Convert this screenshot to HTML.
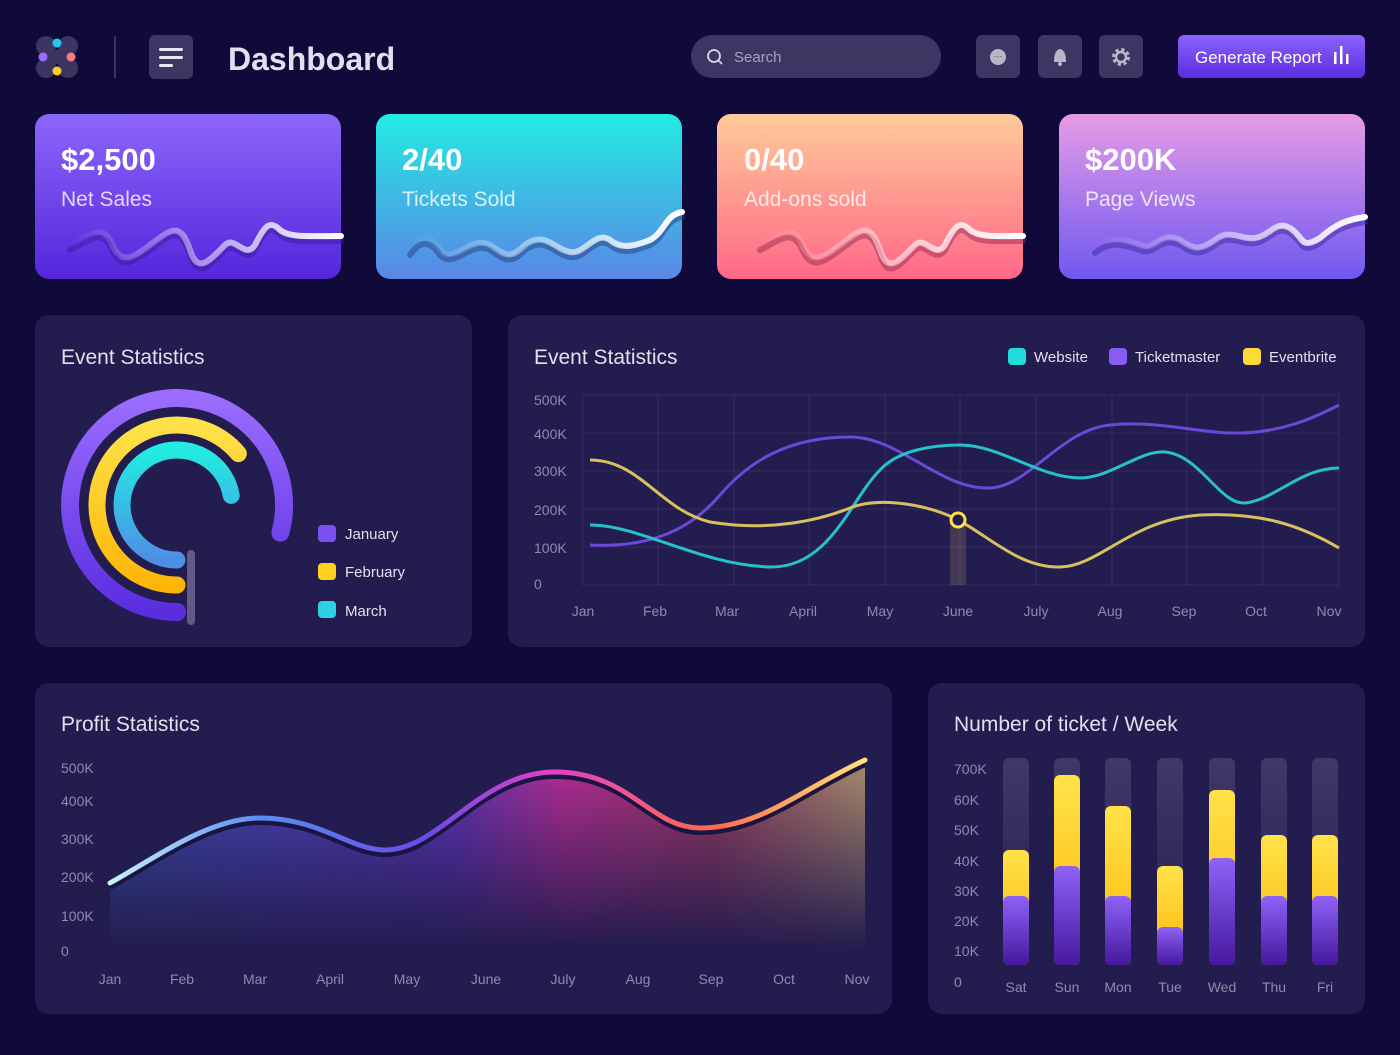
<!DOCTYPE html>
<html><head><meta charset="utf-8"><style>
body{margin:0;width:1400px;height:1050px;background:#100a3a;font-family:"Liberation Sans",sans-serif;overflow:hidden}
</style></head><body>
<svg width="1400" height="1050" viewBox="0 0 1400 1050" xmlns="http://www.w3.org/2000/svg" font-family="Liberation Sans, sans-serif">
<defs>
<linearGradient id="c1" x1="0" y1="0" x2="0" y2="1"><stop offset="0" stop-color="#8d66fa"/><stop offset="1" stop-color="#5526dc"/></linearGradient>
<linearGradient id="c2" x1="0" y1="0" x2="0" y2="1"><stop offset="0" stop-color="#22ece2"/><stop offset="1" stop-color="#5a86e6"/></linearGradient>
<linearGradient id="c3" x1="0" y1="0" x2="0" y2="1"><stop offset="0" stop-color="#ffca98"/><stop offset="1" stop-color="#ff6888"/></linearGradient>
<linearGradient id="c4" x1="0" y1="0" x2="0" y2="1"><stop offset="0" stop-color="#e69ce6"/><stop offset="1" stop-color="#6f58f0"/></linearGradient>
<linearGradient id="btn" x1="0" y1="0" x2="0" y2="1"><stop offset="0" stop-color="#8c62fb"/><stop offset="1" stop-color="#5a2de0"/></linearGradient>
<linearGradient id="wl" x1="0" y1="0" x2="1" y2="0"><stop offset="0" stop-color="#fff" stop-opacity="0"/><stop offset="0.6" stop-color="#fff" stop-opacity="0.6"/><stop offset="1" stop-color="#fff"/></linearGradient>
<linearGradient id="gp" x1="0" y1="0" x2="0" y2="1"><stop offset="0" stop-color="#9a6cff"/><stop offset="1" stop-color="#5a2ee0"/></linearGradient>
<linearGradient id="gy" x1="0" y1="0" x2="0" y2="1"><stop offset="0" stop-color="#ffe24a"/><stop offset="1" stop-color="#fdb606"/></linearGradient>
<linearGradient id="gc" x1="0" y1="0" x2="0" y2="1"><stop offset="0" stop-color="#22ece2"/><stop offset="1" stop-color="#4f8ee6"/></linearGradient>
<linearGradient id="bp" x1="0" y1="0" x2="0" y2="1"><stop offset="0" stop-color="#8e63f6"/><stop offset="1" stop-color="#45189e"/></linearGradient>
<linearGradient id="tr" x1="0" y1="0" x2="0" y2="1"><stop offset="0" stop-color="#403865"/><stop offset="1" stop-color="#241d50"/></linearGradient>
<linearGradient id="pl" x1="0" y1="0" x2="1" y2="0"><stop offset="0" stop-color="#c8f0ff"/><stop offset="0.2" stop-color="#5a8cf0"/><stop offset="0.42" stop-color="#6a4ae6"/><stop offset="0.58" stop-color="#e040c8"/><stop offset="0.8" stop-color="#ff6a50"/><stop offset="1" stop-color="#ffe27a"/></linearGradient>
<linearGradient id="pf" x1="0" y1="0" x2="1" y2="0"><stop offset="0" stop-color="#3a5ac0"/><stop offset="0.45" stop-color="#6a3ad0"/><stop offset="0.6" stop-color="#d0309e"/><stop offset="0.8" stop-color="#b04060"/><stop offset="1" stop-color="#c0a070"/></linearGradient>
<linearGradient id="pfm" x1="0" y1="0" x2="0" y2="1"><stop offset="0" stop-color="#fff" stop-opacity="0.9"/><stop offset="1" stop-color="#fff" stop-opacity="0"/></linearGradient>
<mask id="pm"><rect x="100" y="750" width="780" height="200" fill="url(#pfm)"/></mask>
</defs>
<!-- header -->
<g>
<circle cx="46" cy="46" r="10" fill="#3b3560"/><circle cx="68" cy="46" r="10" fill="#3b3560"/><circle cx="46" cy="68" r="10" fill="#3b3560"/><circle cx="68" cy="68" r="10" fill="#3b3560"/><rect x="46" y="50" width="22" height="14" fill="#3b3560"/>
<circle cx="57" cy="43" r="4.5" fill="#22c8f0"/><circle cx="43" cy="57" r="4.5" fill="#9a6cff"/><circle cx="71" cy="57" r="4.5" fill="#ff7a80"/><circle cx="57" cy="71" r="4.5" fill="#ffcc22"/>
</g>
<rect x="114" y="36" width="2" height="42" fill="#3a3460"/>
<rect x="149" y="35" width="44" height="44" rx="6" fill="#3d3663"/>
<rect x="159" y="48" width="24" height="3" rx="1.5" fill="#e8e6f2"/><rect x="159" y="56" width="24" height="3" rx="1.5" fill="#e8e6f2"/><rect x="159" y="64" width="14" height="3" rx="1.5" fill="#e8e6f2"/>
<text x="228" y="70" font-size="32" font-weight="bold" fill="#e2e0ee">Dashboard</text>
<rect x="691" y="35" width="250" height="43" rx="21.5" fill="#3d3663"/>
<circle cx="714" cy="56" r="6" fill="none" stroke="#d8d6e6" stroke-width="1.8"/><line x1="718" y1="60" x2="722" y2="64" stroke="#d8d6e6" stroke-width="1.8"/>
<text x="734" y="62" font-size="15" fill="#a6a2c2">Search</text>
<rect x="976" y="35" width="44" height="43" rx="6" fill="#3d3663"/><rect x="1038" y="35" width="44" height="43" rx="6" fill="#3d3663"/><rect x="1099" y="35" width="44" height="43" rx="6" fill="#3d3663"/>
<circle cx="998" cy="57" r="8" fill="#b8b6c8"/><text x="998" y="59" font-size="9" fill="#3d3663" text-anchor="middle">···</text>
<path d="M1054 62 Q1054 50 1060 49 Q1066 50 1066 62 Z" fill="#b8b6c8"/><circle cx="1060" cy="64" r="2" fill="#b8b6c8"/>
<circle cx="1121" cy="57" r="7" fill="none" stroke="#b8b6c8" stroke-width="4" stroke-dasharray="3 2.5"/><circle cx="1121" cy="57" r="5" fill="none" stroke="#b8b6c8" stroke-width="2.5"/>
<rect x="1178" y="35" width="187" height="43" rx="6" fill="url(#btn)"/>
<text x="1195" y="63" font-size="17" fill="#fff">Generate Report</text>
<rect x="1334" y="52" width="2.5" height="12" fill="#fff"/><rect x="1340" y="46" width="2.5" height="18" fill="#fff"/><rect x="1346" y="54" width="2.5" height="10" fill="#fff"/>
<!-- cards -->
<rect x="35" y="114" width="306" height="165" rx="14" fill="url(#c1)"/>
<rect x="376" y="114" width="306" height="165" rx="14" fill="url(#c2)"/>
<rect x="717" y="114" width="306" height="165" rx="14" fill="url(#c3)"/>
<rect x="1059" y="114" width="306" height="165" rx="14" fill="url(#c4)"/>
<g font-weight="bold" font-size="31" fill="#fff">
<text x="61" y="170">$2,500</text><text x="402" y="170">2/40</text><text x="744" y="170">0/40</text><text x="1085" y="170">$200K</text></g>
<g font-size="21" fill="#fff" fill-opacity="0.8">
<text x="61" y="206">Net Sales</text><text x="402" y="206">Tickets Sold</text><text x="744" y="206">Add-ons sold</text><text x="1085" y="206">Page Views</text></g>
<g fill="none" stroke-width="6" stroke-linecap="round">
<path d="M70 245 C90 235 100 225 110 240 C120 265 130 260 150 245 C170 230 180 220 190 250 C198 275 210 260 225 245 C235 235 245 260 255 245 C265 225 270 220 280 230 C290 238 310 236 341 236" stroke="#3a1aa0" stroke-opacity="0.5" transform="translate(0,5)"/>
<path d="M70 245 C90 235 100 225 110 240 C120 265 130 260 150 245 C170 230 180 220 190 250 C198 275 210 260 225 245 C235 235 245 260 255 245 C265 225 270 220 280 230 C290 238 310 236 341 236" stroke="url(#wl)"/>
<path d="M410 250 C420 235 430 235 440 250 C455 265 470 235 490 245 C505 255 510 260 525 245 C545 230 555 250 570 252 C585 255 595 230 610 240 C620 248 630 248 650 240 C665 232 665 215 682 212" stroke="#204080" stroke-opacity="0.5" transform="translate(0,5)"/>
<path d="M410 250 C420 235 430 235 440 250 C455 265 470 235 490 245 C505 255 510 260 525 245 C545 230 555 250 570 252 C585 255 595 230 610 240 C620 248 630 248 650 240 C665 232 665 215 682 212" stroke="url(#wl)"/>
<path d="M760 245 C780 235 790 225 800 240 C810 265 820 260 840 245 C860 230 870 220 880 250 C888 275 900 260 915 245 C925 235 935 260 945 245 C955 225 960 220 970 230 C980 238 1000 236 1023 236" stroke="#a02850" stroke-opacity="0.5" transform="translate(0,5)"/>
<path d="M760 245 C780 235 790 225 800 240 C810 265 820 260 840 245 C860 230 870 220 880 250 C888 275 900 260 915 245 C925 235 935 260 945 245 C955 225 960 220 970 230 C980 238 1000 236 1023 236" stroke="url(#wl)"/>
<path d="M1095 248 C1110 235 1125 240 1140 245 C1155 252 1160 230 1180 240 C1195 250 1200 250 1215 240 C1230 228 1240 240 1255 238 C1270 236 1275 220 1290 228 C1305 238 1300 250 1320 238 C1335 225 1345 220 1365 217" stroke="#3a2aa0" stroke-opacity="0.5" transform="translate(0,5)"/>
<path d="M1095 248 C1110 235 1125 240 1140 245 C1155 252 1160 230 1180 240 C1195 250 1200 250 1215 240 C1230 228 1240 240 1255 238 C1270 236 1275 220 1290 228 C1305 238 1300 250 1320 238 C1335 225 1345 220 1365 217" stroke="url(#wl)"/>
</g>
<!-- panels -->
<rect x="35" y="315" width="437" height="332" rx="14" fill="#231c4e"/>
<rect x="508" y="315" width="857" height="332" rx="14" fill="#231c4e"/>
<rect x="35" y="683" width="857" height="331" rx="14" fill="#231c4e"/>
<rect x="928" y="683" width="437" height="331" rx="14" fill="#231c4e"/>
<g font-size="21" fill="#e2e0ee">
<text x="61" y="364">Event Statistics</text><text x="534" y="364">Event Statistics</text>
<text x="61" y="731">Profit Statistics</text><text x="954" y="731">Number of ticket / Week</text></g>
<!-- donut -->
<g fill="none" stroke-linecap="round">
<path d="M177 612 A107 107 0 1 1 280.4 532.7" stroke="url(#gp)" stroke-width="18"/>
<path d="M177 585 A80 80 0 1 1 238.3 453.6" stroke="url(#gy)" stroke-width="17"/>
<path d="M177 560 A55 55 0 1 1 231.2 495.4" stroke="url(#gc)" stroke-width="17"/>
</g>
<rect x="187" y="550" width="8" height="75" rx="4" fill="#625a85"/>
<rect x="318" y="525" width="18" height="17" rx="4" fill="#7a50f0"/><rect x="318" y="563" width="18" height="17" rx="4" fill="#ffcf20"/><rect x="318" y="601" width="18" height="17" rx="4" fill="#2fcfe6"/>
<g font-size="15" fill="#e2e0ee"><text x="345" y="539">January</text><text x="345" y="577">February</text><text x="345" y="616">March</text></g>
<!-- line chart -->
<rect x="1008" y="348" width="18" height="17" rx="4" fill="#22dcdc"/><rect x="1109" y="348" width="18" height="17" rx="4" fill="#8a5cf6"/><rect x="1243" y="348" width="18" height="17" rx="4" fill="#ffd83a"/>
<g font-size="15" fill="#e2e0ee"><text x="1034" y="362">Website</text><text x="1135" y="362">Ticketmaster</text><text x="1269" y="362">Eventbrite</text></g>
<g stroke="#342d5e" stroke-width="1" fill="none">
<rect x="583" y="395" width="756" height="190"/>
<line x1="583" y1="433" x2="1339" y2="433"/><line x1="583" y1="471" x2="1339" y2="471"/><line x1="583" y1="509" x2="1339" y2="509"/><line x1="583" y1="547" x2="1339" y2="547"/>
<line x1="658" y1="395" x2="658" y2="585"/><line x1="734" y1="395" x2="734" y2="585"/><line x1="809" y1="395" x2="809" y2="585"/><line x1="885" y1="395" x2="885" y2="585"/><line x1="960" y1="395" x2="960" y2="585"/><line x1="1036" y1="395" x2="1036" y2="585"/><line x1="1112" y1="395" x2="1112" y2="585"/><line x1="1187" y1="395" x2="1187" y2="585"/><line x1="1263" y1="395" x2="1263" y2="585"/>
</g>
<g font-size="14" fill="#8f8aae">
<text x="534" y="405">500K</text><text x="534" y="439">400K</text><text x="534" y="476">300K</text><text x="534" y="515">200K</text><text x="534" y="553">100K</text><text x="534" y="589">0</text>
<g text-anchor="middle"><text x="583" y="616">Jan</text><text x="655" y="616">Feb</text><text x="727" y="616">Mar</text><text x="803" y="616">April</text><text x="880" y="616">May</text><text x="958" y="616">June</text><text x="1036" y="616">July</text><text x="1110" y="616">Aug</text><text x="1184" y="616">Sep</text><text x="1256" y="616">Oct</text><text x="1329" y="616">Nov</text></g>
<g text-anchor="middle"><text x="110" y="984">Jan</text><text x="182" y="984">Feb</text><text x="255" y="984">Mar</text><text x="330" y="984">April</text><text x="407" y="984">May</text><text x="486" y="984">June</text><text x="563" y="984">July</text><text x="638" y="984">Aug</text><text x="711" y="984">Sep</text><text x="784" y="984">Oct</text><text x="857" y="984">Nov</text></g>
<text x="61" y="773">500K</text><text x="61" y="806">400K</text><text x="61" y="844">300K</text><text x="61" y="882">200K</text><text x="61" y="921">100K</text><text x="61" y="956">0</text>
<text x="954" y="774">700K</text><text x="954" y="805">60K</text><text x="954" y="835">50K</text><text x="954" y="866">40K</text><text x="954" y="896">30K</text><text x="954" y="926">20K</text><text x="954" y="956">10K</text><text x="954" y="987">0</text>
<g text-anchor="middle"><text x="1016" y="992">Sat</text><text x="1067" y="992">Sun</text><text x="1118" y="992">Mon</text><text x="1170" y="992">Tue</text><text x="1222" y="992">Wed</text><text x="1274" y="992">Thu</text><text x="1325" y="992">Fri</text></g>
</g>
<g fill="none" stroke-width="3">
<path d="M590 545 C650 548 690 530 720 495 C750 460 790 437 850 437 C900 437 940 490 990 488 C1030 486 1060 430 1110 425 C1160 420 1200 434 1240 433 C1280 432 1310 420 1339 405" stroke="#6a48d8"/>
<path d="M590 525 C640 525 700 565 770 567 C830 568 850 500 880 470 C900 448 940 445 960 445 C1000 445 1040 478 1080 478 C1110 478 1140 450 1165 452 C1200 455 1220 505 1245 503 C1275 500 1300 468 1339 468" stroke="#26c2cc"/>
<path d="M590 460 C640 460 660 510 710 522 C770 532 820 520 850 508 C880 496 930 505 958 520 C990 537 1020 568 1060 567 C1100 566 1130 520 1200 515 C1260 512 1300 525 1339 548" stroke="#d8c060"/>
</g>
<rect x="950" y="522" width="16" height="63" fill="#ffe27a" opacity="0.15"/>
<circle cx="958" cy="520" r="7" fill="#231c4e" stroke="#ffe04a" stroke-width="3"/>
<!-- profit -->
<path d="M110 883 C160 855 210 818 260 818 C320 818 350 850 385 850 C440 850 480 772 555 772 C630 772 650 828 700 828 C760 828 800 790 865 760 L865 950 L110 950 Z" fill="url(#pf)" mask="url(#pm)"/>
<path d="M110 883 C160 855 210 818 260 818 C320 818 350 850 385 850 C440 850 480 772 555 772 C630 772 650 828 700 828 C760 828 800 790 865 760" fill="none" stroke="#1a1440" stroke-width="6" transform="translate(0,4)"/>
<path d="M110 883 C160 855 210 818 260 818 C320 818 350 850 385 850 C440 850 480 772 555 772 C630 772 650 828 700 828 C760 828 800 790 865 760" fill="none" stroke="url(#pl)" stroke-width="5" stroke-linecap="round"/>
<!-- bars -->
<g>
<rect x="1003" y="758" width="26" height="207" rx="6" fill="url(#tr)"/><rect x="1003" y="850" width="26" height="115" rx="6" fill="url(#gy)"/><rect x="1003" y="896" width="26" height="69" rx="6" fill="url(#bp)"/>
<rect x="1054" y="758" width="26" height="207" rx="6" fill="url(#tr)"/><rect x="1054" y="775" width="26" height="190" rx="6" fill="url(#gy)"/><rect x="1054" y="866" width="26" height="99" rx="6" fill="url(#bp)"/>
<rect x="1105" y="758" width="26" height="207" rx="6" fill="url(#tr)"/><rect x="1105" y="806" width="26" height="159" rx="6" fill="url(#gy)"/><rect x="1105" y="896" width="26" height="69" rx="6" fill="url(#bp)"/>
<rect x="1157" y="758" width="26" height="207" rx="6" fill="url(#tr)"/><rect x="1157" y="866" width="26" height="99" rx="6" fill="url(#gy)"/><rect x="1157" y="927" width="26" height="38" rx="6" fill="url(#bp)"/>
<rect x="1209" y="758" width="26" height="207" rx="6" fill="url(#tr)"/><rect x="1209" y="790" width="26" height="175" rx="6" fill="url(#gy)"/><rect x="1209" y="858" width="26" height="107" rx="6" fill="url(#bp)"/>
<rect x="1261" y="758" width="26" height="207" rx="6" fill="url(#tr)"/><rect x="1261" y="835" width="26" height="130" rx="6" fill="url(#gy)"/><rect x="1261" y="896" width="26" height="69" rx="6" fill="url(#bp)"/>
<rect x="1312" y="758" width="26" height="207" rx="6" fill="url(#tr)"/><rect x="1312" y="835" width="26" height="130" rx="6" fill="url(#gy)"/><rect x="1312" y="896" width="26" height="69" rx="6" fill="url(#bp)"/>
</g>
</svg>
</body></html>
